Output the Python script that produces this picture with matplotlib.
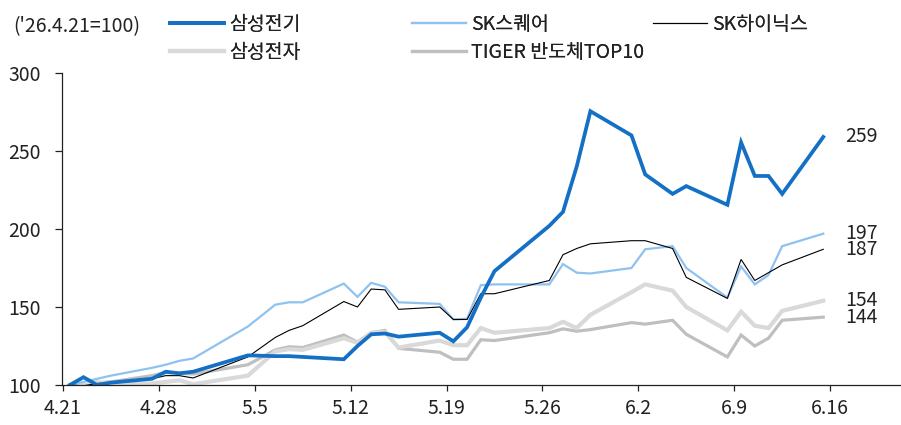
import numpy as np
import pandas as pd
import matplotlib.pyplot as plt

plt.rcParams['font.family'] = ['Noto Sans CJK KR', 'DejaVu Sans']

dates = ['2026-04-21', '2026-04-22', '2026-04-23', '2026-04-24', '2026-04-27', '2026-04-28',
         '2026-04-29', '2026-04-30', '2026-05-04', '2026-05-06', '2026-05-07', '2026-05-08',
         '2026-05-11', '2026-05-12', '2026-05-13', '2026-05-14', '2026-05-15', '2026-05-18',
         '2026-05-19', '2026-05-20', '2026-05-21', '2026-05-22', '2026-05-26', '2026-05-27',
         '2026-05-28', '2026-05-29', '2026-06-01', '2026-06-02', '2026-06-04', '2026-06-05',
         '2026-06-08', '2026-06-09', '2026-06-10', '2026-06-11', '2026-06-12', '2026-06-15']

semco = [100, 105, 100, 101.5, 104, 108.5, 107.5, 108.5, 119, 118.5, 118.5, 118,
         116.5, 125, 132.5, 133, 131, 133.5, 128, 137, 156, 173, 202, 211,
         240, 275.5, 260, 235, 222.5, 227.5, 215.5, 255.5, 234, 234, 222.5, 259]
sksq = [100, 102, 104, 106, 111, 113, 115.5, 117, 137.5, 151.5, 153, 153,
        165, 156.5, 165.5, 163, 153, 152, 142, 142.5, 164, 164.5, 164.5, 177.5,
        172, 171.5, 175, 187, 189, 175, 156, 176, 164.5, 170.5, 189, 197]
skhynix = [100, 99.5, 101, 101.5, 104, 106, 106, 104.5, 118, 130.5, 135, 138,
           153.5, 150, 161.5, 161, 148.5, 150, 142, 142, 158.5, 158.5, 167, 183.5,
           187.5, 190.5, 192.5, 192.5, 187.5, 169, 155.5, 180.5, 167, 172, 177, 187]
samsung = [100, 99.5, 102, 100, 101, 102, 103, 100.5, 106, 121.5, 123, 122.5,
           130, 127, 133.5, 134, 124, 128.5, 125.5, 125.5, 136.5, 133.5, 136.5, 140.5,
           136.5, 145, 159.5, 164.5, 160.5, 150, 135, 147, 138, 136.5, 147.5, 154]
tiger = [100, 100, 101.5, 102, 106, 108, 107.5, 107, 113, 122.5, 124.5, 124,
         132, 127.5, 133.5, 135, 123.5, 121, 116.5, 116.5, 129, 128.5, 133.5, 136,
         134.5, 135.5, 140, 139, 141.5, 132.5, 118, 132, 125, 130, 141.5, 143.5]

tick_dates = ['2026-04-21', '2026-04-28', '2026-05-05', '2026-05-12', '2026-05-19',
              '2026-05-26', '2026-06-02', '2026-06-09', '2026-06-16']
tick_labels = ['4.21', '4.28', '5.5', '5.12', '5.19', '5.26', '6.2', '6.9', '6.16']

start = pd.Timestamp(dates[0])
x = (pd.to_datetime(dates) - start).days.values + 0.5
xt = (pd.to_datetime(tick_dates) - start).days.values

fig = plt.figure(figsize=(9.01, 4.25), dpi=100)
ax = fig.add_axes([62 / 901, 1 - 385 / 425, 838 / 901, 312 / 425])

series = [
    ('TIGER 반도체TOP10', tiger, '#bfbfbf', 2.3),
    ('삼성전자', samsung, '#d9d9d9', 3.0),
    ('SK스퀘어', sksq, '#8fc2f0', 1.6),
    ('SK하이닉스', skhynix, '#000000', 0.8),
    ('삼성전기', semco, '#1470c4', 2.7),
]
handles = {}
for name, vals, col, lw in series:
    ln, = ax.plot(x, vals, color=col, lw=lw, solid_joinstyle='miter', label=name)
    handles[name] = ln
    ax.annotate(f'{vals[-1]:.0f}', (x[-1], vals[-1]), xytext=(16, 0),
                textcoords='offset points', va='center', ha='left',
                fontsize=14, color='#222222')

ax.set_xlim(-0.07, 61.1)
ax.set_ylim(100, 300)
ax.set_yticks([100, 150, 200, 250, 300])
ax.set_xticks(xt)
ax.set_xticklabels(tick_labels)
for s in ['top', 'right']:
    ax.spines[s].set_visible(False)
for s in ['left', 'bottom']:
    ax.spines[s].set_color('#222222')
    ax.spines[s].set_linewidth(0.9)
ax.tick_params(axis='y', direction='out', length=5, width=0.9, pad=10.5,
               labelsize=14, colors='#222222')
ax.tick_params(axis='x', direction='out', length=4, width=0.9, pad=5,
               labelsize=14, colors='#222222')

fig.text(13 / 901, 1 - 27 / 425, "('26.4.21=100)", fontsize=14, color='#222222',
         va='center', ha='left')

cols = [(['삼성전기', '삼성전자'], 170), (['SK스퀘어', 'TIGER 반도체TOP10'], 412),
        (['SK하이닉스'], 653)]
for names, px in cols:
    leg = fig.legend([handles[n] for n in names], names, loc='upper left',
                     bbox_to_anchor=(px / 901 - 0.007, 1 - 8 / 425), frameon=False,
                     fontsize=14, handlelength=2.8, handletextpad=0.25,
                     labelspacing=0.35, borderaxespad=0, borderpad=0.3)
    for t in leg.get_texts():
        t.set_color('#222222')
    fig.add_artist(leg)

fig.savefig('out.png', dpi=100)
